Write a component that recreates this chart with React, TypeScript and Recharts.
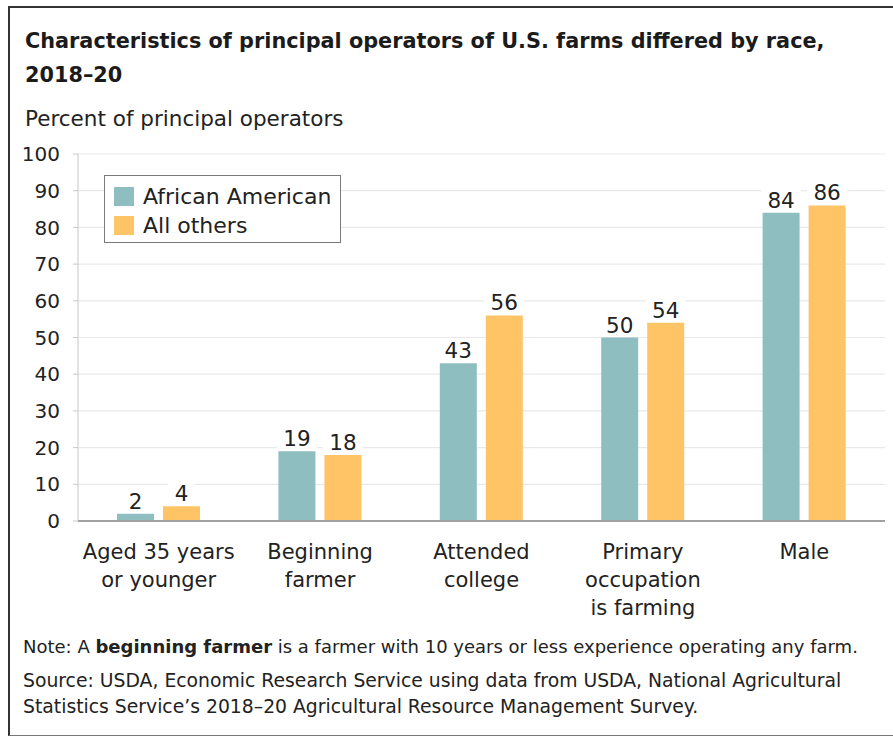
import React from 'react';
import { BarChart, Bar, XAxis, YAxis, CartesianGrid, Legend, LabelList } from 'recharts';

const FONT = '"DejaVu Sans", "Liberation Sans", sans-serif';
const TEXT = '#222';

const categories = [
  'Aged 35 years or younger',
  'Beginning farmer',
  'Attended college',
  'Primary occupation is farming',
  'Male',
];
const categoryLines = [
  ['Aged 35 years', 'or younger'],
  ['Beginning', 'farmer'],
  ['Attended', 'college'],
  ['Primary', 'occupation', 'is farming'],
  ['Male'],
];
const africanAmerican = [2, 19, 43, 50, 84];
const allOthers = [4, 18, 56, 54, 86];
const seriesNames = ['African American', 'All others'];
const seriesColors = ['#8fbec1', '#fec466'];
const yTicks = [0, 10, 20, 30, 40, 50, 60, 70, 80, 90, 100];

const data = categories.map((c, i) => ({
  category: c,
  aa: africanAmerican[i],
  others: allOthers[i],
}));

const XTick = (props: any) => {
  const { x, y, payload } = props;
  const idx = categories.indexOf(payload.value);
  const lines = idx >= 0 ? categoryLines[idx] : [String(payload.value)];
  return (
    <text x={x} y={y} textAnchor="middle" fontFamily={FONT} fontSize={21} fill={TEXT}>
      {lines.map((l, i) => (
        <tspan key={i} x={x} y={y + 38 + i * 28}>
          {l}
        </tspan>
      ))}
    </text>
  );
};

const BarLabel = (props: any) => {
  const { x, y, width, value } = props;
  const cx = Number(x) + Number(width) / 2;
  const w = String(value).length * 13 + 14;
  return (
    <g>
      <rect x={cx - w / 2} y={Number(y) - 25} width={w} height={22} fill="#fff" />
      <text x={cx} y={Number(y) - 5} textAnchor="middle" fontFamily={FONT} fontSize={21.5} fill={TEXT}>
        {value}
      </text>
    </g>
  );
};

const LegendBox = (props: any) => {
  const payload = props.payload || [];
  return (
    <div
      style={{
        boxSizing: 'border-box',
        width: 237,
        height: 68,
        border: '1.5px solid #7a7a7a',
        background: '#fff',
        paddingTop: 6,
        paddingLeft: 9,
        fontFamily: FONT,
        fontSize: 22,
        color: TEXT,
      }}
    >
      {payload.map((p: any, i: number) => (
        <div key={i} style={{ display: 'flex', alignItems: 'center', height: 29 }}>
          <div style={{ width: 20, height: 19, background: p.color, marginRight: 9, flex: 'none' }} />
          <span style={{ lineHeight: '29px', whiteSpace: 'nowrap' }}>{p.value}</span>
        </div>
      ))}
    </div>
  );
};

export default function App() {
  return (
    <div
      style={{
        position: 'absolute',
        left: 0,
        top: 0,
        width: 893,
        height: 736,
        overflow: 'hidden',
        background: '#fff',
        fontFamily: FONT,
        color: TEXT,
      }}
    >
      <div
        style={{
          position: 'absolute',
          left: 8,
          top: 6,
          width: 885,
          height: 730,
          boxSizing: 'border-box',
          borderTop: '2px solid #333',
          borderLeft: '2px solid #333',
          borderBottom: '1.5px solid #777',
        }}
      />
      <div style={{ position: 'absolute', left: 0, top: 0 }}>
        <BarChart
          width={893}
          height={736}
          data={data}
          margin={{ top: 154, right: 8, bottom: 115, left: 18 }}
          barSize={37}
          barGap={9}
          style={{ fontFamily: FONT }}
        >
          <CartesianGrid vertical={false} stroke="#e9e9e9" strokeWidth={1.2} />
          <XAxis
            dataKey="category"
            height={100}
            interval={0}
            tickSize={0}
            tickLine={false}
            tickMargin={0}
            axisLine={{ stroke: '#a0a0a0', strokeWidth: 2 }}
            tick={<XTick />}
          />
          <YAxis
            width={60}
            domain={[0, 100]}
            ticks={yTicks}
            interval={0}
            tickSize={5}
            tickMargin={13}
            tickLine={{ stroke: '#c8c8c8' }}
            axisLine={{ stroke: '#c8c8c8', strokeWidth: 1 }}
            tick={{ fontFamily: FONT, fontSize: 20, fill: TEXT }}
          />
          <Legend
            layout="vertical"
            align="center"
            verticalAlign="middle"
            content={<LegendBox />}
            wrapperStyle={{ left: 104, top: 175, width: 237, height: 68 }}
          />
          <Bar dataKey="aa" name={seriesNames[0]} fill={seriesColors[0]} isAnimationActive={false}>
            <LabelList dataKey="aa" content={<BarLabel />} />
          </Bar>
          <Bar dataKey="others" name={seriesNames[1]} fill={seriesColors[1]} isAnimationActive={false}>
            <LabelList dataKey="others" content={<BarLabel />} />
          </Bar>
        </BarChart>
      </div>
      <div
        style={{
          position: 'absolute',
          left: 25,
          top: 24,
          fontSize: 20.8,
          fontWeight: 'bold',
          lineHeight: '34px',
          whiteSpace: 'nowrap',
          color: '#1b1b1b',
        }}
      >
        Characteristics of principal operators of U.S. farms differed by race,
        <br />
        2018–20
      </div>
      <div
        style={{
          position: 'absolute',
          left: 25,
          top: 107,
          fontSize: 21.5,
          lineHeight: '24px',
          whiteSpace: 'nowrap',
        }}
      >
        Percent of principal operators
      </div>
      <div
        style={{
          position: 'absolute',
          left: 23,
          top: 634,
          fontSize: 18,
          lineHeight: '25px',
          whiteSpace: 'nowrap',
        }}
      >
        Note: A <b>beginning farmer</b> is a farmer with 10 years or less experience operating any farm.
      </div>
      <div
        style={{
          position: 'absolute',
          left: 23,
          top: 668,
          fontSize: 18.8,
          lineHeight: '25.5px',
          whiteSpace: 'nowrap',
        }}
      >
        Source: USDA, Economic Research Service using data from USDA, National Agricultural
        <br />
        Statistics Service’s 2018–20 Agricultural Resource Management Survey.
      </div>
    </div>
  );
}
